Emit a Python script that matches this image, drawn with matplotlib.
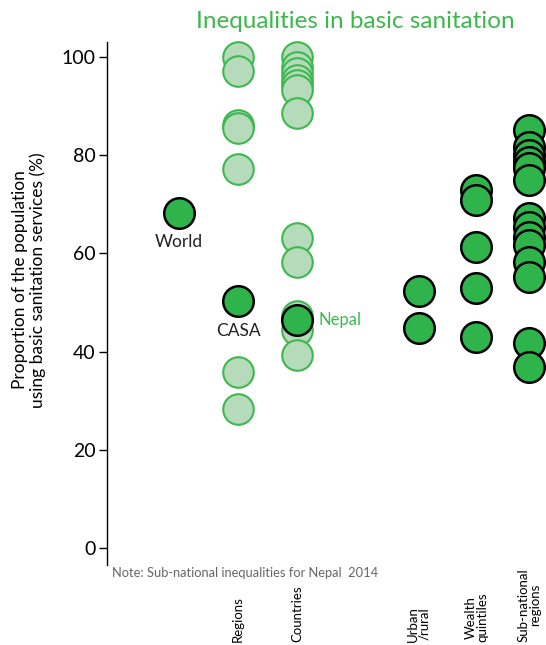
import matplotlib.pyplot as plt

plt.rcParams['font.family'] = ['Lato', 'DejaVu Sans']

# values
world = [68.2]
casa = [50.4]
regions = [100, 97.2, 86.2, 85.6, 77.2, 35.8, 28.3]
countries = [100, 98, 96.7, 95.3, 94.3, 93.3, 88.6, 63.1, 58.2, 47.2, 44.4, 39.3]
nepal = [46.4]
urban_rural = [52.4, 44.8]
wealth = [72.9, 70.9, 61.3, 53.0, 43.0]
subnational = [85.1, 81.7, 80.0, 78.6, 77.4, 75.0, 67.2, 65.4, 63.3, 61.7,
               58.2, 55.2, 41.8, 36.9]

cat_labels = ['Regions', 'Countries', 'Urban\n/rural', 'Wealth\nquintiles',
              'Sub-national\nregions']
xpos = {'world': 1.22, 'regions': 2.22, 'countries': 3.22,
        'urban': 5.28, 'wealth': 6.26, 'sub': 7.16}

dark = '#2fb34b'
light_fill = '#b6dbbb'
light_edge = '#3db84f'

fig = plt.figure(figsize=(5.46, 6.45), dpi=100)
ax = fig.add_axes([107 / 546, (645 - 565) / 645, 439 / 546, 523 / 645])


def dots(x, vals, fill, edge, mew):
    ax.plot([x] * len(vals), vals, 'o', ms=22, mfc=fill, mec=edge, mew=mew,
            clip_on=False)


dots(xpos['regions'], regions, light_fill, light_edge, 1.5)
dots(xpos['countries'], countries, light_fill, light_edge, 1.5)
dots(xpos['world'], world, dark, 'black', 1.8)
dots(xpos['regions'], casa, dark, 'black', 1.8)
dots(xpos['countries'], nepal, dark, 'black', 1.8)
dots(xpos['urban'], urban_rural, dark, 'black', 1.8)
dots(xpos['wealth'], wealth, dark, 'black', 1.8)
dots(xpos['sub'], subnational, dark, 'black', 1.8)

ax.text(xpos['world'], world[0] - 5.8, 'World', ha='center', va='center',
        fontsize=12.5, color='#222222')
ax.text(xpos['regions'], casa[0] - 6.3, 'CASA', ha='center', va='center',
        fontsize=12.5, color='#222222')
ax.text(xpos['countries'] + 0.36, nepal[0], 'Nepal', ha='left', va='center',
        fontsize=12, color=light_edge)

ax.set_xlim(0, 439 / 59)
ax.set_ylim(-3.5, 103.1)
ax.set_yticks([0, 20, 40, 60, 80, 100])
ax.tick_params(axis='y', labelsize=14, length=6, width=1, direction='out',
               pad=2)
ax.set_xticks([])
for s in ['top', 'right', 'bottom']:
    ax.spines[s].set_visible(False)
ax.spines['left'].set_linewidth(1)

fig.text(29 / 546, 1 - 280 / 645,
         'Proportion of the population\nusing basic sanitation services (%)',
         rotation=90, ha='center', va='center', fontsize=12.5,
         linespacing=1.15)

fig.text(355 / 546, 1 - 22 / 645, 'Inequalities in basic sanitation',
         ha='center', va='center', fontsize=17.5, color=light_edge)

fig.text(112 / 546, 1 - 573 / 645,
         'Note: Sub-national inequalities for Nepal  2014',
         ha='left', va='center', fontsize=9.3, color='#666666')

for lab, key in zip(cat_labels, ['regions', 'countries', 'urban', 'wealth', 'sub']):
    xf = (107 + xpos[key] * 59) / 546
    fig.text(xf, 3 / 645, lab, rotation=90, ha='center', va='bottom',
             fontsize=9.5, linespacing=1.0, multialignment='center')

fig.savefig('out.png', dpi=100)
